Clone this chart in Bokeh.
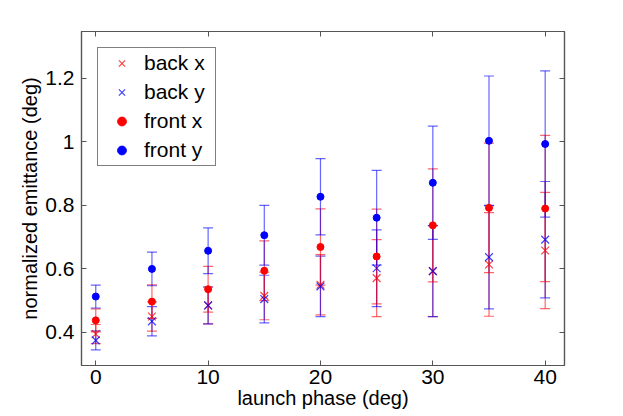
from bokeh.plotting import figure
from bokeh.models import (ColumnDataSource, Whisker, TeeHead, FixedTicker,
                          LinearAxis, Range1d, Legend, LegendItem)
from bokeh.embed import file_html
from bokeh.resources import INLINE

# ---- data ----
phase = [0, 5, 10, 15, 20, 25, 30, 35, 40]
back_x = [0.395, 0.450, 0.485, 0.515, 0.550, 0.571, 0.593, 0.614, 0.658]
back_y = [0.375, 0.435, 0.485, 0.505, 0.545, 0.602, 0.593, 0.637, 0.692]
front_x = [0.438, 0.497, 0.536, 0.594, 0.669, 0.639, 0.737, 0.792, 0.790]
front_y = [0.513, 0.600, 0.657, 0.706, 0.827, 0.761, 0.871, 1.003, 0.993]
back_err = [0.030, 0.046, 0.058, 0.075, 0.095, 0.121, 0.143, 0.163, 0.183]
front_err = [0.036, 0.053, 0.072, 0.094, 0.120, 0.149, 0.178, 0.204, 0.230]

x_ticks = [0, 10, 20, 30, 40]
y_ticks = [0.4, 0.6, 0.8, 1.0, 1.2]
y_tick_labels = ["0.4", "0.6", "0.8", "1", "1.2"]

FONT = "Liberation Sans"
FS_TICK = "21px"
FS_LABEL = "20px"
AX = "#555555"

p = figure(width=615, height=416, output_backend="svg", toolbar_location=None,
           x_range=Range1d(-1.27, 41.72), y_range=Range1d(0.296, 1.347),
           min_border_left=81, min_border_right=51, min_border_top=31,
           min_border_bottom=51)
p.xgrid.visible = False
p.ygrid.visible = False
p.outline_line_color = AX
p.outline_line_width = 1.2
p.background_fill_color = "white"
p.border_fill_color = "white"

bottom_ax = p.below[0]
left_ax = p.left[0]

series = [
    ("back x", back_x, back_err, "#ff0000", "x"),
    ("back y", back_y, back_err, "#0000ff", "x"),
    ("front x", front_x, front_err, "#ff0000", "circle"),
    ("front y", front_y, front_err, "#0000ff", "circle"),
]

sources = []
for name, vals, err, color, marker in series:
    src = ColumnDataSource(dict(
        x=phase, y=vals,
        lo=[v - e for v, e in zip(vals, err)],
        hi=[v + e for v, e in zip(vals, err)],
    ))
    sources.append(src)
    w = Whisker(source=src, base="x", upper="hi", lower="lo",
                line_color=color, line_alpha=0.6, line_width=1.2,
                upper_head=TeeHead(size=10, line_color=color, line_alpha=0.6, line_width=1.2),
                lower_head=TeeHead(size=10, line_color=color, line_alpha=0.6, line_width=1.2))
    p.add_layout(w)

renderers = []
for (name, vals, err, color, marker), src in zip(series, sources):
    if marker == "x":
        r = p.scatter("x", "y", source=src, marker="x", size=11,
                      line_color=color, line_alpha=0.75, line_width=1.2)
    else:
        r = p.scatter("x", "y", source=src, marker="circle", size=7,
                      fill_color=color, line_color=color)
    renderers.append((name, r))

legend = Legend(items=[LegendItem(label=n, renderers=[r]) for n, r in renderers],
                location="top_left")
legend.label_text_font = FONT
legend.label_text_font_size = FS_TICK
legend.label_text_color = "black"
legend.glyph_width = 41
legend.glyph_height = 22
legend.label_height = 22
legend.label_width = 68
legend.spacing = 5
legend.padding = 3
legend.margin = 16
legend.label_standoff = 2
legend.border_line_color = "black"
legend.border_line_width = 1
legend.background_fill_alpha = 1
p.add_layout(legend)

bottom_ax.ticker = FixedTicker(ticks=x_ticks)
left_ax.ticker = FixedTicker(ticks=y_ticks)
left_ax.major_label_overrides = {t: l for t, l in zip(y_ticks, y_tick_labels)}
bottom_ax.axis_label = "launch phase (deg)"
left_ax.axis_label = "normalized emittance (deg)"

top_ax = LinearAxis(ticker=FixedTicker(ticks=x_ticks),
                    major_label_overrides={t: "" for t in x_ticks})
right_ax = LinearAxis(ticker=FixedTicker(ticks=y_ticks),
                      major_label_overrides={t: "" for t in y_ticks})
p.add_layout(top_ax, "above")
p.add_layout(right_ax, "right")

for ax in [bottom_ax, left_ax, top_ax, right_ax]:
    ax.axis_line_color = AX
    ax.axis_line_width = 1.2
    ax.major_tick_line_color = AX
    ax.major_tick_in = 5
    ax.major_tick_out = 0
    ax.minor_tick_line_color = None
    ax.major_label_text_font = FONT
    ax.major_label_text_font_size = FS_TICK
    ax.major_label_text_color = "black"
    ax.axis_label_text_font = FONT
    ax.axis_label_text_font_size = FS_LABEL
    ax.axis_label_text_font_style = "normal"
    ax.axis_label_text_color = "black"

for ax in [top_ax, right_ax]:
    ax.major_label_standoff = 0

bottom_ax.major_label_standoff = 4
bottom_ax.axis_label_standoff = 0
left_ax.major_label_standoff = 7
left_ax.axis_label_standoff = 1

open("out.html", "w").write(file_html(p, INLINE))
